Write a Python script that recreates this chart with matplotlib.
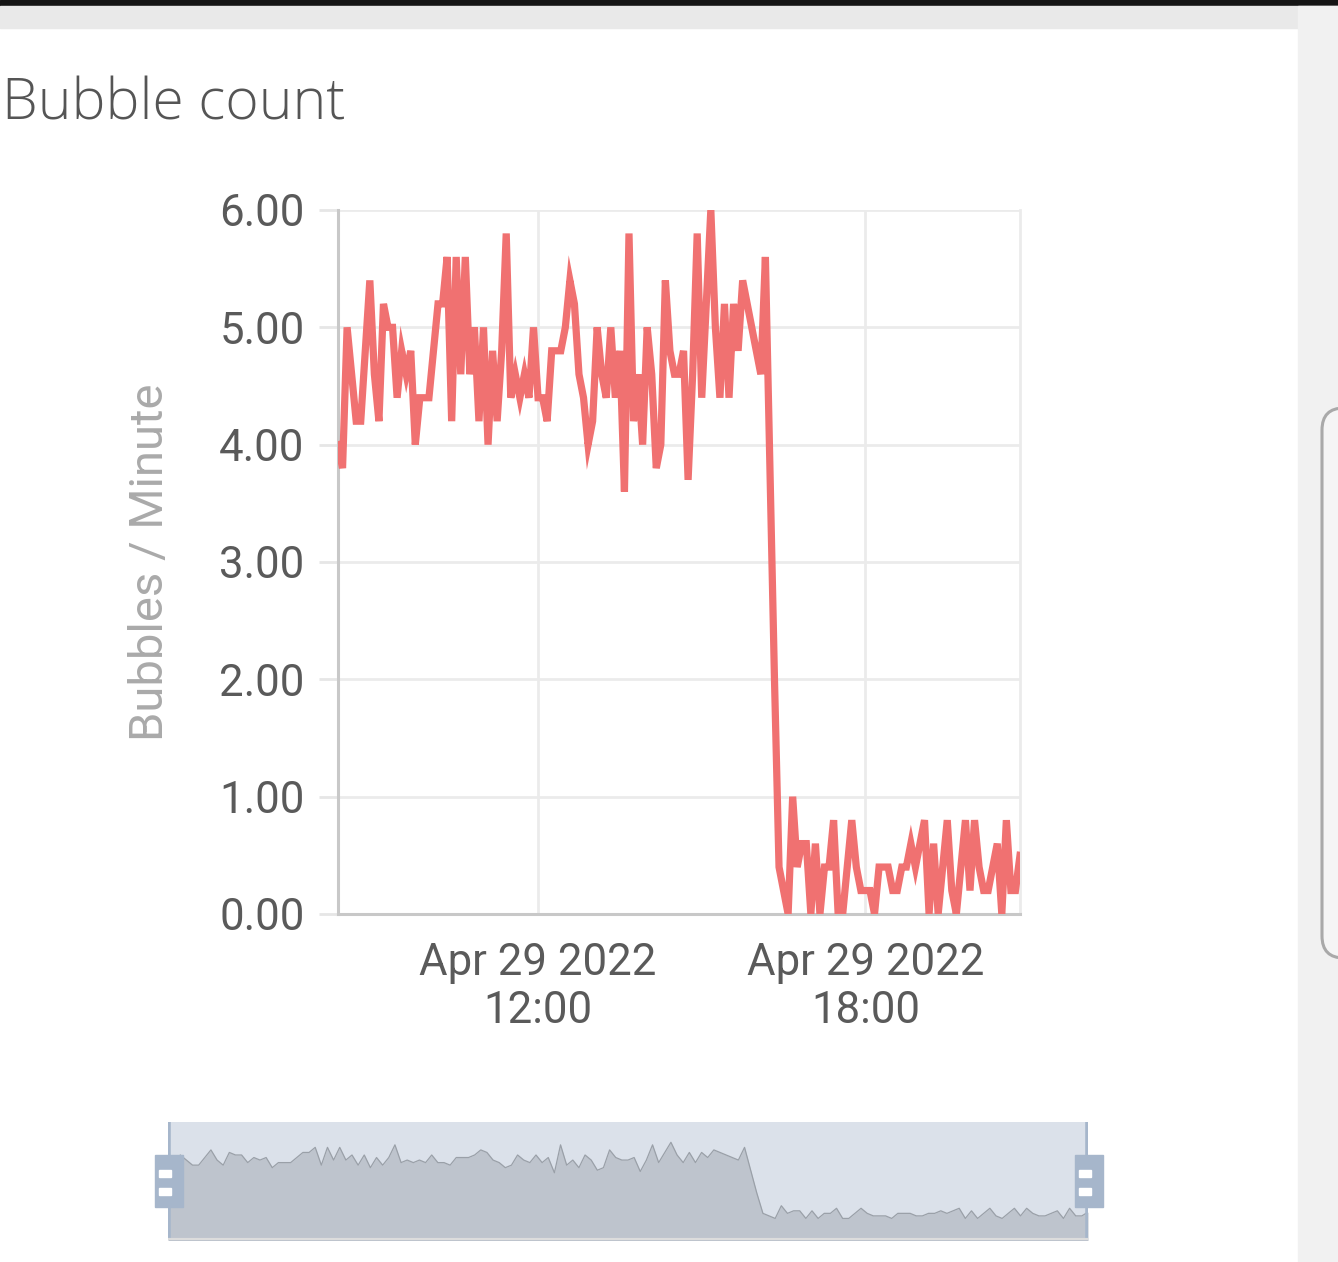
import numpy as np
import pandas as pd
import matplotlib
matplotlib.use("Agg")
import matplotlib.pyplot as plt
import matplotlib.dates as mdates
from matplotlib.patches import Rectangle, FancyBboxPatch

# 5 minute bubble rate, Apr 29 2022 08:20 .. 20:50
bubbles = [
    4.0, 3.8, 5.0, 4.6, 4.2, 4.2, 4.8, 5.4, 4.6, 4.2,
    5.2, 5.0, 5.0, 4.4, 4.8, 4.6, 4.8, 4.0, 4.4, 4.4,
    4.4, 4.8, 5.2, 5.2, 5.6, 4.2, 5.6, 4.6, 5.6, 4.6,
    5.0, 4.2, 5.0, 4.0, 4.8, 4.2, 4.8, 5.8, 4.4, 4.6,
    4.4, 4.6, 4.4, 5.0, 4.4, 4.4, 4.2, 4.8, 4.8, 4.8,
    5.0, 5.4, 5.2, 4.6, 4.4, 4.0, 4.2, 5.0, 4.6, 4.4,
    5.0, 4.4, 4.8, 3.6, 5.8, 4.2, 4.6, 4.0, 5.0, 4.6,
    3.8, 4.0, 5.4, 4.8, 4.6, 4.6, 4.8, 3.7, 4.6, 5.8,
    4.4, 5.2, 6.0, 5.0, 4.4, 5.2, 4.4, 5.2, 4.8, 5.4,
    5.2, 5.0, 4.8, 4.6, 5.6, 3.8, 2.0, 0.4, 0.2, 0.0,
    1.0, 0.4, 0.6, 0.6, 0.0, 0.6, 0.0, 0.4, 0.4, 0.8,
    0.0, 0.0, 0.4, 0.8, 0.4, 0.2, 0.2, 0.2, 0.0, 0.4,
    0.4, 0.4, 0.2, 0.2, 0.4, 0.4, 0.6, 0.4, 0.6, 0.8,
    0.0, 0.6, 0.0, 0.4, 0.8, 0.2, 0.0, 0.4, 0.8, 0.2,
    0.8, 0.4, 0.2, 0.2, 0.4, 0.6, 0.0, 0.8, 0.2, 0.2,
    0.5,
]
times = pd.date_range("2022-04-29 08:20", periods=len(bubbles), freq="5min")
x_ticks = pd.to_datetime(["2022-04-29 12:00", "2022-04-29 18:00"])
y_ticks = [0, 1, 2, 3, 4, 5, 6]

W, H = 1338, 1262
fig = plt.figure(figsize=(W / 100, H / 100), dpi=100)
fig.patch.set_facecolor("white")

def fx(px):
    return px / W

def fy(py):
    return 1 - py / H

# phone screenshot decoration
deco = fig.add_axes([0, 0, 1, 1], zorder=-5)
deco.set_xlim(0, W)
deco.set_ylim(H, 0)
deco.axis("off")
deco.add_patch(Rectangle((0, 0), W, 6, color="#151515"))
deco.add_patch(Rectangle((0, 6), W, 22, color="#e9e9e9"))
deco.add_patch(Rectangle((1298, 6), 40, H, color="#f1f1f1"))
deco.add_patch(FancyBboxPatch((1322, 408), 60, 550,
                              boxstyle="round,pad=0,rounding_size=22",
                              fc="#f5f5f5", ec="#a9a9a9", lw=2.2))

fig.text(fx(2), fy(120), "Bubble count", fontsize=41, color="#555555",
         family="Open Sans", fontweight="light", va="baseline", ha="left")

ax = fig.add_axes([fx(338), fy(914), fx(1020 - 338), (914 - 210) / H])
ax.plot(times, bubbles, color="#f07171", lw=5.2, solid_joinstyle="miter", zorder=3)
ax.set_xlim(pd.Timestamp("2022-04-29 08:20"), pd.Timestamp("2022-04-29 20:50"))
ax.set_ylim(0, 6)
ax.set_yticks(y_ticks)
ax.yaxis.set_major_formatter(matplotlib.ticker.FormatStrFormatter("%.2f"))
ax.set_xticks(x_ticks)
ax.xaxis.set_major_formatter(mdates.DateFormatter("%b %d %Y\n%H:%M"))
for lab in ax.get_xticklabels():
    lab.set_multialignment("center")

ax.grid(True, color="#ebebeb", lw=2.0)
ax.set_axisbelow(True)
ax.spines["top"].set_visible(False)
ax.spines["right"].set_color("#ebebeb")
ax.spines["right"].set_linewidth(2.0)
ax.spines["left"].set_color("#c8c8c8")
ax.spines["left"].set_linewidth(2.2)
ax.spines["bottom"].set_color("#c8c8c8")
ax.spines["bottom"].set_linewidth(2.2)
ax.tick_params(axis="y", length=14, width=2.0, color="#e6e6e6", pad=10,
               labelsize=31.5, labelcolor="#5a5a5a")
ax.tick_params(axis="x", length=0, pad=20, labelsize=31.5, labelcolor="#5a5a5a")
for lab in ax.get_xticklabels() + ax.get_yticklabels():
    lab.set_family("Roboto")
ax.set_ylabel("Bubbles / Minute", fontsize=34, color="#aaaaaa", family="Roboto",
              labelpad=34)

# data zoom slider
sl = fig.add_axes([fx(168), fy(1240), fx(1088 - 168), (1240 - 1122) / H])
sl.set_facecolor("#dbe1ea")
sl.fill_between(times, bubbles, -2, color="#bec4cd", lw=0)
sl.plot(times, bubbles, color="#9aa0a8", lw=0.9)
sl.set_xlim(times[0], times[-1])
sl.set_ylim(-1.7, 7.6)
sl.set_xticks([])
sl.set_yticks([])
for s in sl.spines.values():
    s.set_visible(False)
sl.axvline(times[0], color="#a6b6cb", lw=4)
sl.axvline(times[-1], color="#a6b6cb", lw=4)
sl.axhline(-1.7, color="#dcdcdc", lw=3)

for hx in (155, 1075):
    deco.add_patch(Rectangle((hx, 1155), 28, 52, color="#a6b6cb", zorder=5))
    deco.add_patch(Rectangle((hx + 4, 1170), 12, 7, color="white", zorder=6))
    deco.add_patch(Rectangle((hx + 4, 1188), 12, 7, color="white", zorder=6))
deco.set_zorder(10)
deco.patch.set_alpha(0)

fig.savefig("out.png", dpi=100)
